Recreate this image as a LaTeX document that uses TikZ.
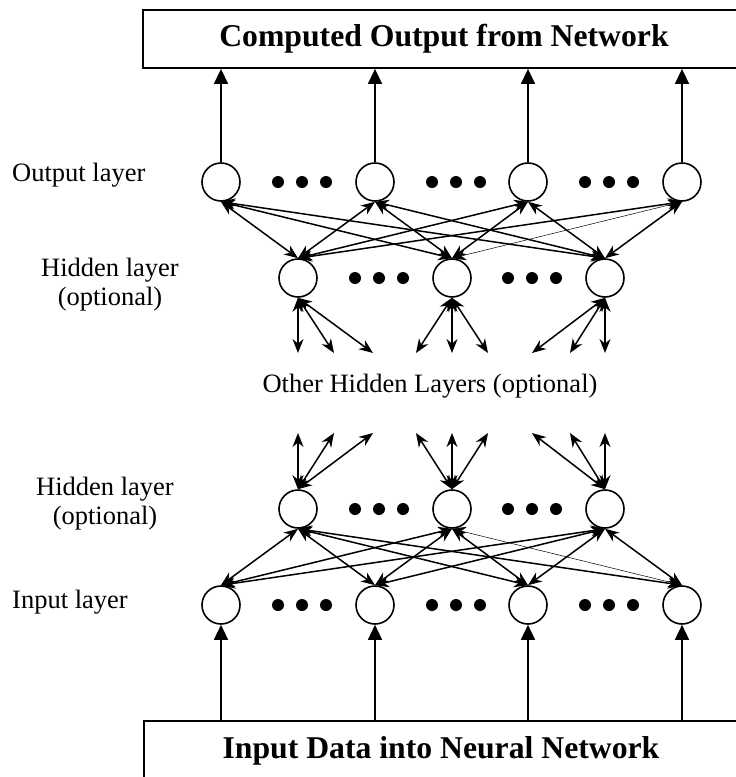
\documentclass[tikz,border=0pt]{standalone}
\usepackage{fontspec}
\setmainfont{Liberation Serif}
\usetikzlibrary{arrows.meta}

\tikzset{
  unit/.style={draw, circle, line width=1.6pt, minimum size=38pt, inner sep=0pt},
  link/.style={{Stealth[length=14pt,width=11pt]}-{Stealth[length=14pt,width=11pt]}, line width=1.5pt},
  feed/.style={-{Triangle[length=15pt,width=14pt]}, line width=1.5pt},
  tag/.style={font=\fontsize{26.5}{29}\selectfont, inner sep=0pt},
  banner/.style={draw, line width=1.8pt, font=\fontsize{31.7}{36}\selectfont\bfseries}
}

\begin{document}
\begin{tikzpicture}[x=1pt, y=-1pt]
\useasboundingbox (0,0) rectangle (736,777);
\clip (0,0) rectangle (736,777);

% Boxes at top and bottom
\node[banner, minimum width=602pt, minimum height=58pt] (result) at (444,39) {Computed Output from Network};
\node[banner, minimum width=594pt, minimum height=60pt] (data) at (441,751) {Input Data into Neural Network};

% Layers of units
\node[unit] (out1) at (221,182) {};
\node[unit] (out2) at (375,182) {};
\node[unit] (out3) at (528,182) {};
\node[unit] (out4) at (682,182) {};
\node[unit] (hup1) at (298,278) {};
\node[unit] (hup2) at (452,278) {};
\node[unit] (hup3) at (605,278) {};
\node[unit] (hlo1) at (298,509) {};
\node[unit] (hlo2) at (452,509) {};
\node[unit] (hlo3) at (605,509) {};
\node[unit] (in1) at (221,605) {};
\node[unit] (in2) at (375,605) {};
\node[unit] (in3) at (528,605) {};
\node[unit] (in4) at (682,605) {};

% Dots between units
\foreach \c in {302,456,609}
  \foreach \d in {-24,0,24} {
    \fill (\c+\d,182) circle (6pt);
    \fill (\c+\d,605) circle (6pt);
  }
\foreach \c in {379,532}
  \foreach \d in {-24,0,24} {
    \fill (\c+\d,278) circle (6pt);
    \fill (\c+\d,509) circle (6pt);
  }

% Arrows to and from the boxes
\foreach \n in {1,2,3,4} {
  \draw[feed] (out\n) -- (out\n |- result.south);
  \draw[feed] (in\n |- data.north) -- (in\n);
}

% Full connections between layers
\foreach \h/\o in {1/1,1/2,1/3,1/4,2/1,2/2,2/3,3/1,3/2,3/3,3/4} {
  \draw[link] (hup\h.north) -- (out\o.south);
  \draw[link] (hlo\h.south) -- (in\o.north);
}
\draw[link, line width=0.5pt] (hup2.north) -- (out4.south);
\draw[link, line width=0.5pt] (hlo2.south) -- (in4.north);

% Fans towards the other hidden layers
\foreach \x [count=\i] in {298,334,373,416,452,488,532,570,605} {
  \coordinate (up\i) at (\x,353);
  \coordinate (lo\i) at (\x,433);
}
\foreach \h/\a/\b/\c in {1/1/2/3,2/4/5/6,3/7/8/9}
  \foreach \e in {\a,\b,\c} {
    \draw[link] (hup\h.south) -- (up\e);
    \draw[link] (hlo\h.north) -- (lo\e);
  }

% Labels
\node[tag, anchor=base west] (outlbl) at (12,181) {Output layer};
\node[tag, anchor=north, align=center] (hidlbl) at (110,258) {Hidden layer\\(optional)};
\node[tag, anchor=north, align=center] (lowlbl) at (105,477) {Hidden layer\\(optional)};
\node[tag, anchor=base west] (inlbl) at (12,608) {Input layer};
\node[tag, anchor=base] (otherlbl) at (430,392) {Other Hidden Layers (optional)};

\end{tikzpicture}
\end{document}
